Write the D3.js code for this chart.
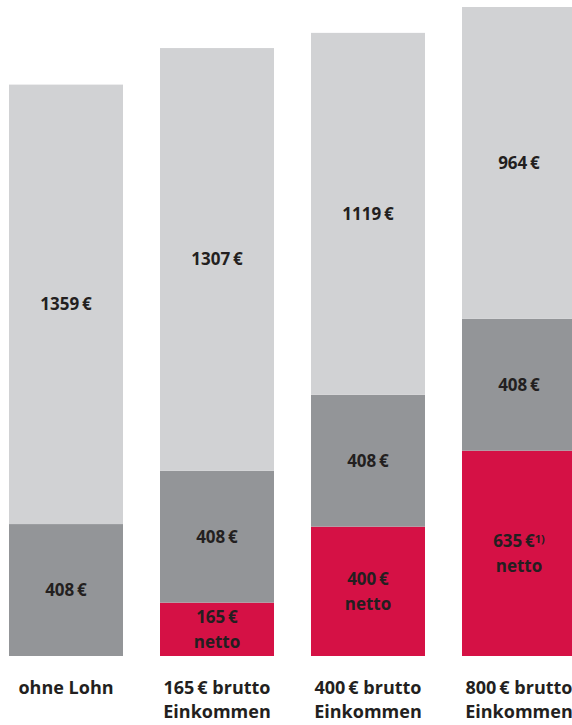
<!DOCTYPE html>
<html>
<head>
<meta charset="utf-8">
<script src="https://cdn.jsdelivr.net/npm/d3@7"></script>
<style>
  body { margin: 0; background: #fff; }
  svg { display: block; font-family: "Open Sans", "Noto Sans", sans-serif; }
</style>
</head>
<body>
<div id="chart"></div>
<script>
// categories (two-line labels)
const categories = ['ohne Lohn', '165 € brutto', '400 € brutto', '800 € brutto'];
const categoryLines = [
    ['ohne Lohn'],
    ['165\u2009€ brutto', 'Einkommen'],
    ['400\u2009€ brutto', 'Einkommen'],
    ['800\u2009€ brutto', 'Einkommen']
];

// series values, bottom to top
const netto = [0, 165, 400, 635];
const grundsicherung = [408, 408, 408, 408];
const rest = [1359, 1307, 1119, 964];

const nettoNotes = ['', '', '', '1)'];

const width = 572, height = 725;
const baseline = 656;

const svg = d3.select('#chart').append('svg')
    .attr('width', width)
    .attr('height', height);

const data = categories.map((c, i) => ({
    category: c,
    netto: netto[i],
    grund: grundsicherung[i],
    rest: rest[i]
}));

const keys = ['netto', 'grund', 'rest'];
const colors = { netto: '#d51145', grund: '#939598', rest: '#d1d2d4' };

const stack = d3.stack().keys(keys);
const series = stack(data);

const x = d3.scaleBand()
    .domain(categories)
    .range([9, 576])
    .paddingInner(0.245)
    .paddingOuter(0);

const maxTotal = d3.max(data, d => d.netto + d.grund + d.rest);
const y = d3.scaleLinear()
    .domain([0, maxTotal])
    .range([baseline, 7]);

// bars
const layers = svg.selectAll('.layer')
    .data(series)
    .enter()
    .append('g')
    .attr('class', 'layer')
    .attr('fill', d => colors[d.key]);

layers.selectAll('rect')
    .data(d => d.map(p => ({ key: d.key, p: p })))
    .enter()
    .append('rect')
    .attr('x', d => x(d.p.data.category))
    .attr('width', x.bandwidth())
    .attr('y', d => y(d.p[1]))
    .attr('height', d => y(d.p[0]) - y(d.p[1]));

// value labels
const textColor = '#231f20';
const lineGap = 25;

series.forEach(s => {
    s.forEach((p, i) => {
        const v = p[1] - p[0];
        if (v <= 0) return;
        const cx = x(p.data.category) + x.bandwidth() / 2;
        const cy = (y(p[0]) + y(p[1])) / 2;
        const lines = s.key === 'netto' ? [v + '\u2009€', 'netto'] : [v + '\u2009€'];
        const t = svg.append('text')
            .attr('text-anchor', 'middle')
            .style('font-size', '17px')
            .style('font-weight', 'bold')
            .style('fill', textColor);
        lines.forEach((ln, j) => {
            t.append('tspan')
                .attr('x', cx)
                .attr('y', cy + (j - (lines.length - 1) / 2) * lineGap)
                .attr('dy', '0.35em')
                .text(ln);
            if (j === 0 && s.key === 'netto' && nettoNotes[i]) {
                t.append('tspan')
                    .attr('dy', '-0.35em')
                    .style('font-size', '11px')
                    .text(nettoNotes[i]);
            }
        });
    });
});

// category labels
categoryLines.forEach((lines, i) => {
    const cx = x(categories[i]) + x.bandwidth() / 2;
    const t = svg.append('text')
        .attr('text-anchor', 'middle')
        .style('font-size', '18px')
        .style('font-weight', 'bold')
        .style('fill', textColor);
    lines.forEach((ln, j) => {
        t.append('tspan')
            .attr('x', cx)
            .attr('y', 688 + j * 24)
            .attr('dy', '0.35em')
            .text(ln);
    });
});
</script>
</body>
</html>
